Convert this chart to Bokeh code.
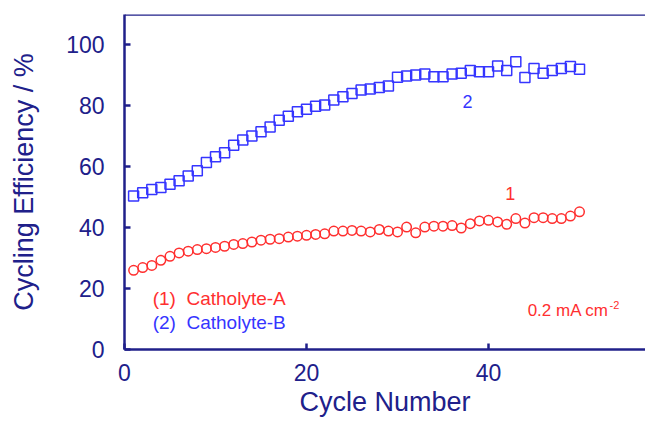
from bokeh.plotting import figure
from bokeh.models import Range1d, Label, Span
from bokeh.embed import file_html
from bokeh.resources import INLINE

# ---- data ----
cycles = list(range(1, 51))
eff_catholyte_a = [26.0, 26.9, 27.6, 29.3, 30.6, 31.7, 32.3, 32.8, 33.1, 33.5,
                   33.9, 34.5, 34.8, 35.3, 35.9, 36.2, 36.4, 36.9, 37.2, 37.5,
                   37.8, 38.0, 38.9, 38.9, 39.1, 38.9, 38.6, 39.4, 38.9, 38.6,
                   40.2, 38.3, 40.2, 40.5, 40.5, 40.7, 39.9, 41.3, 42.2, 42.4,
                   41.9, 41.1, 43.0, 41.5, 43.3, 43.3, 43.0, 43.0, 43.8, 45.2]
eff_catholyte_b = [50.4, 51.5, 52.5, 53.2, 54.3, 55.4, 57.0, 58.7, 61.4, 63.3,
                   64.6, 67.1, 68.8, 70.1, 71.5, 73.1, 75.3, 76.6, 78.1, 78.9,
                   79.9, 80.3, 81.9, 83.0, 84.1, 85.2, 85.5, 86.0, 86.5, 89.4,
                   89.8, 90.1, 90.5, 89.6, 89.6, 90.5, 90.7, 91.6, 91.2, 91.2,
                   93.1, 91.6, 94.5, 89.3, 92.3, 90.7, 91.6, 92.3, 92.9, 92.0]
x_ticks = [0, 20, 40]
y_ticks = [0, 20, 40, 60, 80, 100]

NAVY = "#20208a"
RED = "#ff2f2f"
BLUE = "#3535ff"
FONT = "Liberation Sans"

p = figure(width=645, height=425, output_backend="svg", toolbar_location=None,
           x_range=Range1d(0, 57.25), y_range=Range1d(0, 110),
           min_border_left=124, min_border_right=0, min_border_top=14,
           min_border_bottom=76)
p.outline_line_color = None
p.grid.visible = False
p.background_fill_color = "white"
p.border_fill_color = "white"

p.scatter(cycles, eff_catholyte_b, marker="square", size=10, fill_color=None,
          line_color=BLUE, line_width=1.5)
p.scatter(cycles, eff_catholyte_a, marker="circle", size=9.5, fill_color=None,
          line_color=RED, line_width=1.5)

for ax in (p.xaxis[0], p.yaxis[0]):
    ax.axis_line_color = NAVY
    ax.axis_line_width = 2.5
    ax.major_tick_line_color = NAVY
    ax.major_tick_line_width = 2.5
    ax.major_tick_in = 6
    ax.major_tick_out = 0
    ax.minor_tick_line_color = None
    ax.major_label_text_font = FONT
    ax.major_label_text_font_size = "23px"
    ax.major_label_text_color = NAVY
    ax.axis_label_text_font = FONT
    ax.axis_label_text_font_size = "27px"
    ax.axis_label_text_font_style = "normal"
    ax.axis_label_text_color = NAVY

p.xaxis.ticker = x_ticks
p.yaxis.ticker = y_ticks
p.xaxis.axis_label = "Cycle Number"
p.yaxis.axis_label = "Cycling Efficiency / %"
p.xaxis.major_label_standoff = 14
p.xaxis.axis_label_standoff = 3
p.yaxis.major_label_standoff = 20
p.yaxis.axis_label_standoff = 24

p.add_layout(Span(location=110, dimension="width", line_color=NAVY, line_width=2.5))

def lab(x, y, text, color, size="19px", align="left"):
    p.add_layout(Label(x=x, y=y, text=text, text_color=color, text_font=FONT,
                       text_font_size=size, text_baseline="middle", text_align=align))

lab(3.1, 16.7, "(1)\u00a0\u00a0Catholyte-A", RED)
lab(3.1, 8.9, "(2)\u00a0\u00a0Catholyte-B", BLUE)
lab(44.3, 12.8, "0.2 mA cm", RED, size="17px")
lab(53.3, 14.6, "-2", RED, size="11px")
lab(37.7, 81.4, "2", BLUE, size="18px", align="center")
lab(42.4, 51.2, "1", RED, size="18px", align="center")

open("out.html", "w").write(file_html(p, INLINE))
